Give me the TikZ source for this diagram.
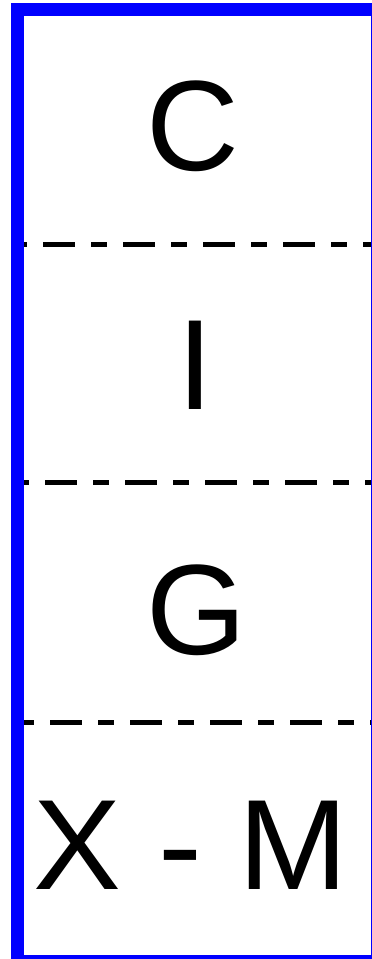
\documentclass[tikz,border=0pt]{standalone}
\usepackage{fontspec}
\setmainfont{Liberation Sans}
\begin{document}
\begin{tikzpicture}[x=1pt,y=-1pt,
  sep/.style={line width=5.5pt,dash pattern=on 32pt off 16pt on 16pt off 16pt},
  lbl/.style={anchor=base west,inner sep=0pt,outer sep=0pt,font=\fontsize{128.5}{130}\selectfont}]
\useasboundingbox (0,0) rectangle (372,959);
\clip (0,0) rectangle (372,959);
\fill[white] (0,0) rectangle (372,959);
% frame
\draw[blue,line width=13pt] (17.5,9.5) rectangle (377,961.5);
% separators
\coordinate (l1a) at (24,244.3); \coordinate (l1b) at (371,244.3);
\coordinate (l2a) at (24,482.3); \coordinate (l2b) at (371,482.3);
\coordinate (l3a) at (24,722.3); \coordinate (l3b) at (371,722.3);
\draw[sep,dash phase=61pt] (l1a) -- (l1b);
\draw[sep,dash phase=59pt] (l2a) -- (l2b);
\draw[sep,dash phase=54pt] (l3a) -- (l3b);
% labels
\node[lbl] (c) at (146.6,170.5) {C};
\node[lbl] (i) at (177,409) {I};
\node[lbl] (g) at (146.1,654.5) {G};
\node[lbl] (xm) at (34,889) {\scalebox{1.025}[1]{X - M}};
\end{tikzpicture}
\end{document}
